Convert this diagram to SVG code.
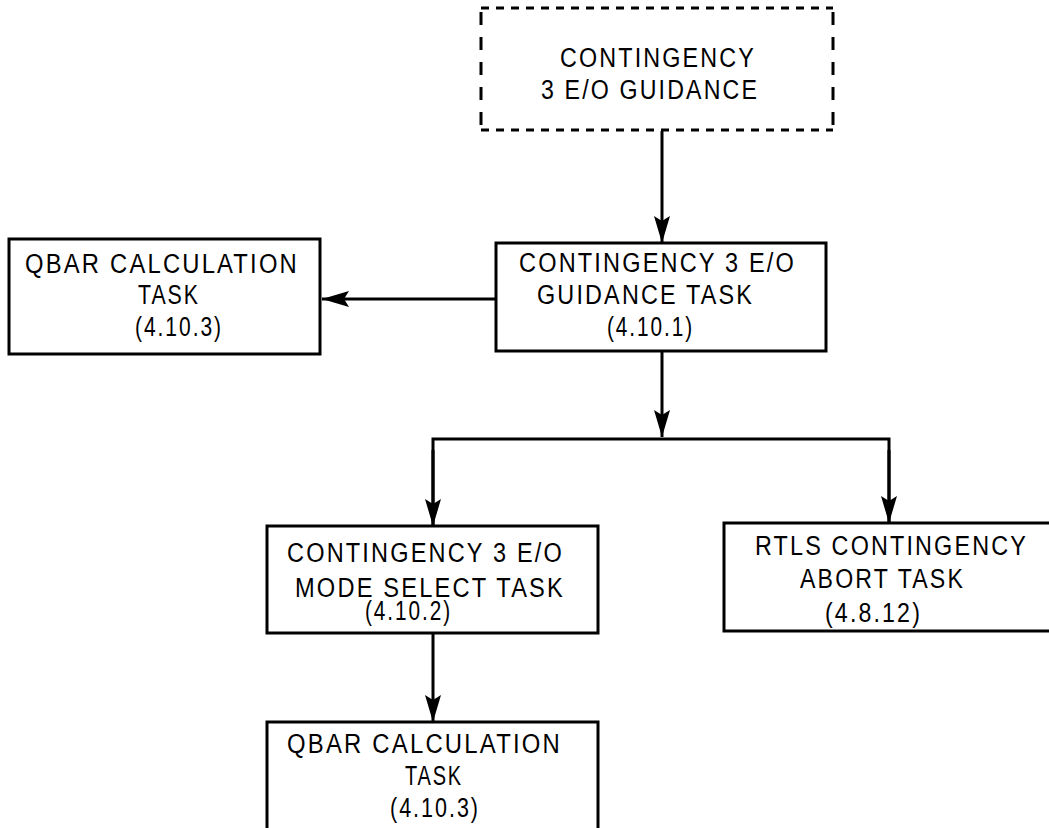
<svg xmlns="http://www.w3.org/2000/svg" width="1049" height="828" viewBox="0 0 1049 828">
<style>
.box{fill:#fff;stroke:#000;stroke-width:3}
.dash{fill:none;stroke:#000;stroke-width:3}
.t{font-family:"Liberation Sans",Arial,sans-serif;font-size:27px;letter-spacing:2.5px;fill:#000}
.c{fill:none;stroke:#000;stroke-width:3}
.a{fill:none;stroke:#000;stroke-width:3;marker-end:url(#ah)}
</style>
<defs>
<marker id="ah" markerUnits="userSpaceOnUse" markerWidth="30" markerHeight="20" viewBox="-28 -9 30 18" refX="0" refY="0" orient="auto">
<path d="M0,0 L-27,-8 L-22,0 L-27,8 Z" fill="#000"/>
</marker>
</defs>
<rect width="1049" height="828" fill="#fff"/>
<g id="node-contingency">
<line class="dash" x1="481" y1="8" x2="833" y2="8" stroke-dasharray="8 7"/>
<line class="dash" x1="481" y1="130" x2="833" y2="130" stroke-dasharray="8 7"/>
<line class="dash" x1="481" y1="12" x2="481" y2="130" stroke-dasharray="13 12"/>
<line class="dash" x1="833" y1="12" x2="833" y2="130" stroke-dasharray="13 12"/>
<text class="t" x="560" y="67" textLength="196" lengthAdjust="spacingAndGlyphs">CONTINGENCY</text>
<text class="t" x="541" y="99" textLength="218" lengthAdjust="spacingAndGlyphs">3 E/O GUIDANCE</text>
</g>
<g id="node-guidance-task">
<rect class="box" x="496" y="243" width="330" height="108"/>
<text class="t" x="519" y="272" textLength="277" lengthAdjust="spacingAndGlyphs">CONTINGENCY 3 E/O</text>
<text class="t" x="537" y="304" textLength="217" lengthAdjust="spacingAndGlyphs">GUIDANCE TASK</text>
<text class="t" x="607" y="336" textLength="87" lengthAdjust="spacingAndGlyphs">(4.10.1)</text>
</g>
<g id="node-qbar-1">
<rect class="box" x="9" y="239" width="311" height="115"/>
<text class="t" x="25" y="273" textLength="274" lengthAdjust="spacingAndGlyphs">QBAR CALCULATION</text>
<text class="t" x="138" y="304" textLength="62" lengthAdjust="spacingAndGlyphs">TASK</text>
<text class="t" x="135" y="336" textLength="88" lengthAdjust="spacingAndGlyphs">(4.10.3)</text>
</g>
<g id="node-mode-select">
<rect class="box" x="267" y="526" width="331" height="107"/>
<text class="t" x="287" y="562" textLength="277" lengthAdjust="spacingAndGlyphs">CONTINGENCY 3 E/O</text>
<text class="t" x="295" y="597" textLength="270" lengthAdjust="spacingAndGlyphs">MODE SELECT TASK</text>
<text class="t" x="365" y="620" textLength="87" lengthAdjust="spacingAndGlyphs">(4.10.2)</text>
</g>
<g id="node-rtls">
<rect class="box" x="724" y="523" width="330" height="108"/>
<text class="t" x="755" y="555" textLength="273" lengthAdjust="spacingAndGlyphs">RTLS CONTINGENCY</text>
<text class="t" x="800" y="588" textLength="165" lengthAdjust="spacingAndGlyphs">ABORT TASK</text>
<text class="t" x="825" y="622" textLength="97" lengthAdjust="spacingAndGlyphs">(4.8.12)</text>
</g>
<g id="node-qbar-2">
<rect class="box" x="267" y="722" width="331" height="130"/>
<text class="t" x="287" y="753" textLength="275" lengthAdjust="spacingAndGlyphs">QBAR CALCULATION</text>
<text class="t" x="405" y="785" textLength="58" lengthAdjust="spacingAndGlyphs">TASK</text>
<text class="t" x="390" y="817" textLength="90" lengthAdjust="spacingAndGlyphs">(4.10.3)</text>
</g>
<g id="connectors">
<line class="a" x1="662" y1="131" x2="662" y2="243"/>
<line class="a" x1="496" y1="299" x2="322" y2="299"/>
<line class="a" x1="662" y1="351" x2="662" y2="437"/>
<polyline class="c" points="433,526 433,439 889,439 889,523"/>
<line class="a" x1="433" y1="450" x2="433" y2="526"/>
<line class="a" x1="889" y1="450" x2="889" y2="523"/>
<line class="a" x1="433" y1="633" x2="433" y2="722"/>
</g>
</svg>
